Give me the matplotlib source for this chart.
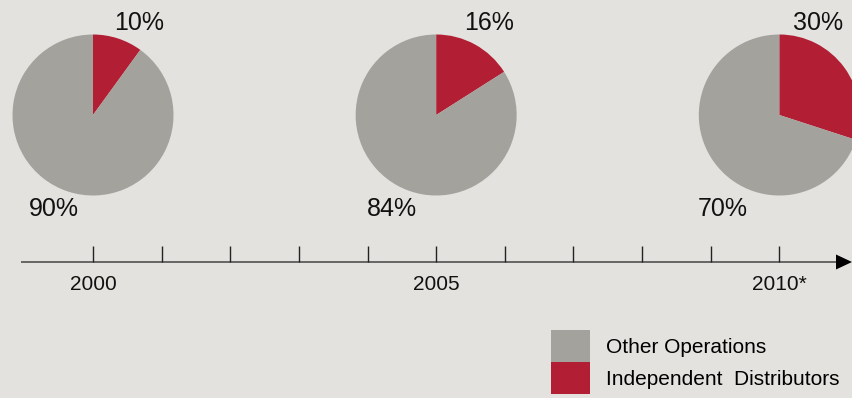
import matplotlib.pyplot as plt
from matplotlib.patches import Patch

# data
pie_years = [2000, 2005, 2010]
pie_year_labels = ["2000", "2005", "2010*"]
independent = [10, 16, 30]
other = [90, 84, 70]
tick_years = list(range(2000, 2011))

# styling
BG = "#E3E2DE"
GREY = "#A4A29D"
RED = "#B21E33"
plt.rcParams["font.family"] = ["Liberation Sans", "DejaVu Sans"]

W, H = 852, 398
PX = 68.63          # pixels per year
X0 = 93             # pixel x of year 2000
AXIS_Y = 262        # pixel y of the timeline (from top)


def py(y_px):
    """pixel row (from top) -> data y"""
    return (AXIS_Y - y_px) / PX


def run():
    fig = plt.figure(figsize=(W / 100, H / 100), dpi=100, facecolor=BG)
    ax = fig.add_axes([0, 0, 1, 1])
    ax.set_facecolor(BG)

    radius = 80.5 / PX
    top_dx = [46, 53, 39]
    low_dx = [-39, -44, -57]
    for i, yr in enumerate(pie_years):
        ax.pie([independent[i], other[i]], colors=[RED, GREY], startangle=90,
               counterclock=False, center=(yr, py(115)), radius=radius,
               frame=True, wedgeprops=dict(linewidth=0))
        ax.text(yr + top_dx[i] / PX, py(30), f"{independent[i]}%", fontsize=18,
                ha="center", va="baseline", color="#111111")
        ax.text(yr + low_dx[i] / PX, py(216.5), f"{other[i]}%", fontsize=18,
                ha="center", va="baseline", color="#111111")
        ax.text(yr, py(290), pie_year_labels[i], fontsize=15,
                ha="center", va="baseline", color="#111111")

    # timeline
    x_start = 2000 - (X0 - 21) / PX
    x_tip = 2000 + (W - X0) / PX
    head_len = 16 / PX
    ax.plot([x_start, x_tip - head_len], [0, 0], color="#444444", lw=1.1,
            solid_capstyle="butt")
    ax.arrow(x_tip - head_len, 0, head_len, 0, width=0, head_width=15 / PX,
             head_length=head_len, length_includes_head=True, color="black",
             lw=0)
    ax.vlines(tick_years, 0, 16 / PX, color="#222222", lw=1.0)

    ax.set_xlim(2000 - X0 / PX, 2000 + (W - X0) / PX)
    ax.set_ylim(py(H), py(0))
    ax.axis("off")

    # legend: square handles stacked with no gap
    handles = [Patch(facecolor=GREY, edgecolor="none"),
               Patch(facecolor=RED, edgecolor="none")]
    fs = 15 * 100 / 72
    hh = (32 / fs - 0.245) / 0.65  # legend shrinks the handle by its descent
    fig.legend(handles, ["Other Operations", "Independent  Distributors"],
               loc="upper left", bbox_to_anchor=(551 / W, 1 - 330 / H),
               frameon=False, fontsize=15, borderpad=0, borderaxespad=0,
               handlelength=39 / fs, handleheight=hh, labelspacing=0,
               handletextpad=16 / fs)

    fig.savefig("out.png", dpi=100, facecolor=BG)


if __name__ == "__main__":
    run()
